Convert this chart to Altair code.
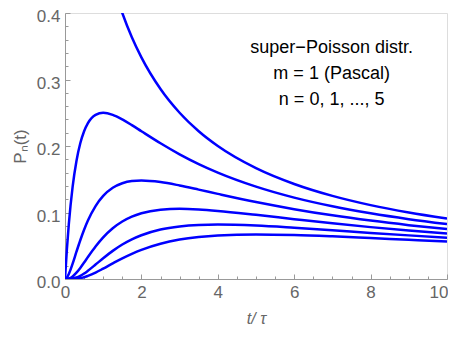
import altair as alt
import pandas as pd

# time grid (t / tau)
t_vals = [0, 0.05, 0.1, 0.2, 0.3, 0.4, 0.5, 0.6, 0.8, 1.0, 1.25, 1.5, 1.75, 2,
          2.5, 3, 3.5, 4, 5, 6, 7, 8, 9, 10]

# P_n(t), n = 0 .. 5
p0 = [None, None, None, None, None, None, None, None, None, None, 0.444, 0.400, 0.3636,
      0.3333, 0.2857, 0.250, 0.2222, 0.200, 0.1667, 0.1429, 0.125, 0.1111, 0.100, 0.0909]
p1 = [0, 0.0454, 0.0826, 0.1389, 0.1775, 0.2041, 0.2222, 0.2344, 0.2469, 0.250, 0.2469,
      0.240, 0.2314, 0.2222, 0.2041, 0.1875, 0.1728, 0.160, 0.1389, 0.1224, 0.1094,
      0.0988, 0.090, 0.0826]
p2 = [0, 0.0022, 0.0075, 0.0231, 0.041, 0.0583, 0.0741, 0.0879, 0.1097, 0.125, 0.1372,
      0.144, 0.1473, 0.1481, 0.1458, 0.1406, 0.1344, 0.128, 0.1157, 0.105, 0.0957,
      0.0878, 0.081, 0.0751]
p3 = [0, 0.0001, 0.0007, 0.0039, 0.0095, 0.0167, 0.0247, 0.033, 0.0488, 0.0625, 0.0762,
      0.0864, 0.0937, 0.0988, 0.1041, 0.1055, 0.1045, 0.1024, 0.0965, 0.090, 0.0837,
      0.078, 0.0729, 0.0683]
p4 = [0, 0.0, 0.0001, 0.0006, 0.0022, 0.0048, 0.0082, 0.0124, 0.0217, 0.03125, 0.0423,
      0.0518, 0.0596, 0.0658, 0.0744, 0.0791, 0.0813, 0.0819, 0.0804, 0.0771, 0.0733,
      0.0693, 0.0656, 0.0621]
p5 = [0, 0.0, 0.0, 0.0001, 0.0005, 0.0014, 0.0027, 0.0047, 0.0096, 0.0156, 0.0235,
      0.0311, 0.0379, 0.0439, 0.0531, 0.0593, 0.0632, 0.0655, 0.067, 0.0661, 0.0641,
      0.0616, 0.059, 0.0565]
series = [p0, p1, p2, p3, p4, p5]

x_major = [0, 2, 4, 6, 8, 10]
x_minor = [0.5, 1, 1.5, 2.5, 3, 3.5, 4.5, 5, 5.5, 6.5, 7, 7.5, 8.5, 9, 9.5]
y_major = [0.0, 0.1, 0.2, 0.3, 0.4]
y_minor = [0.02, 0.04, 0.06, 0.08, 0.12, 0.14, 0.16, 0.18, 0.22, 0.24, 0.26, 0.28,
           0.32, 0.34, 0.36, 0.38]

notes = ["super\u2212Poisson distr.", "m = 1 (Pascal)", "n = 0, 1, ..., 5"]
note_t = [6.98, 6.98, 6.98]
note_p = [0.348, 0.308, 0.269]

rows = []
for n, s in enumerate(series):
    for t, p in zip(t_vals, s):
        if p is not None:
            rows.append({"t": t, "p": p, "n": n})
df = pd.DataFrame(rows)
notes_df = pd.DataFrame({"text": notes, "t": note_t, "p": note_p})

W, H = 382, 266
GRAY = "#999999"
LAB = "#666666"

xs = alt.Scale(domain=[0, 10], nice=False, zero=False)
ys = alt.Scale(domain=[0, 0.4], nice=False)

base = alt.Chart(df)

lines = base.mark_line(color="#0000ff", strokeWidth=2.5, clip=True,
                       interpolate="monotone").encode(
    x=alt.X("t:Q", scale=xs,
            axis=alt.Axis(values=x_major, tickSize=0, grid=False, labelFontSize=17,
                          labelColor=LAB, labelPadding=5, domainColor=GRAY,
                          labelAlign={"expr": "datum.value == 10 ? 'right' : 'center'"},
                          labelOffset={"expr": "datum.value == 10 ? 1 : 0"},
                          title="t/ \u03c4", titleFontSize=16, titleColor=LAB,
                          titleFontStyle="italic", titleFontWeight="normal",
                          titlePadding=10, labelFlush=False)),
    y=alt.Y("p:Q", scale=ys,
            axis=alt.Axis(values=y_major, format=".1f", tickSize=0, grid=False,
                          labelFontSize=17, labelColor=LAB, labelPadding=5,
                          labelOffset=3.5,
                          domainColor=GRAY, title="P\u2099(t)", titleFontSize=17,
                          titleColor=LAB, titleFontWeight="normal", titlePadding=7,
                          labelFlush=False)),
    detail="n:N",
)

def tick_layer(xv, yv, size):
    return base.mark_point(opacity=0).encode(
        x=alt.X("t:Q", scale=xs,
                axis=alt.Axis(orient="top", offset=-H, values=xv, tickSize=size,
                              tickColor=GRAY, labels=False, domain=False, grid=False,
                              title=None)),
        y=alt.Y("p:Q", scale=ys,
                axis=alt.Axis(orient="right", offset=-W, values=yv, tickSize=size,
                              tickColor=GRAY, labels=False, domain=False, grid=False,
                              title=None)),
    )

major = tick_layer(x_major, y_major, 5)
minor = tick_layer(x_minor, y_minor, 3)

text = alt.Chart(notes_df).mark_text(fontSize=18, color="black", font="Liberation Sans",
                                     align="center", baseline="middle").encode(
    x=alt.X("t:Q", scale=xs, axis=None),
    y=alt.Y("p:Q", scale=ys, axis=None),
    text="text:N",
)

chart = alt.layer(lines, major, minor, text).resolve_axis(
    x="independent", y="independent"
).properties(
    width=W, height=H,
    autosize=alt.AutoSizeParams(type="none"),
    padding={"left": 57, "top": 5, "right": 1, "bottom": 50},
).configure_view(stroke=GRAY, strokeWidth=1).configure_axis(
    labelFont="Liberation Sans", titleFont="Liberation Sans"
).configure(background="white")

chart.save("out.html", embed_options={"renderer": "svg", "actions": False})
